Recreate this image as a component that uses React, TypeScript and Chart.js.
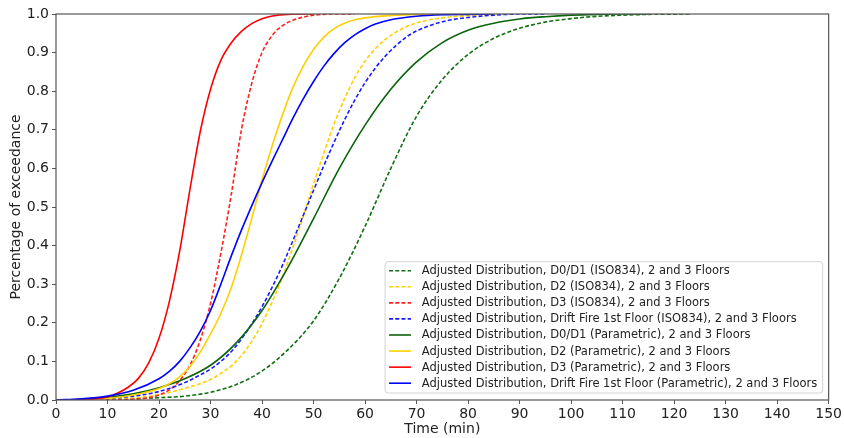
import React, { useEffect, useRef } from "react";
import { Chart, registerables } from "chart.js";

Chart.register(...registerables);

const FONT = "'DejaVu Sans', 'Liberation Sans', sans-serif";

const SERIES_LABELS = [
  "Adjusted Distribution, D0/D1 (ISO834), 2 and 3 Floors",
  "Adjusted Distribution, D2 (ISO834), 2 and 3 Floors",
  "Adjusted Distribution, D3 (ISO834), 2 and 3 Floors",
  "Adjusted Distribution, Drift Fire 1st Floor (ISO834), 2 and 3 Floors",
  "Adjusted Distribution, D0/D1 (Parametric), 2 and 3 Floors",
  "Adjusted Distribution, D2 (Parametric), 2 and 3 Floors",
  "Adjusted Distribution, D3 (Parametric), 2 and 3 Floors",
  "Adjusted Distribution, Drift Fire 1st Floor (Parametric), 2 and 3 Floors",
];

// D0/D1 (ISO834)
const T_D01_ISO = [0, 10, 15, 20, 25, 30, 35, 40, 45, 50, 55, 60, 65, 70, 75, 80, 85, 90, 95, 100, 105, 110, 115, 123];
const P_D01_ISO = [0, 0.001, 0.003, 0.006, 0.01, 0.02, 0.04, 0.075, 0.13, 0.205, 0.315, 0.45, 0.6, 0.735, 0.83, 0.895, 0.937, 0.963, 0.979, 0.988, 0.994, 0.997, 0.999, 1];

// D2 (ISO834)
const T_D2_ISO = [0, 10, 15, 20, 25, 30, 32, 34, 36, 38, 40, 42, 44, 46, 48, 50, 52, 54, 56, 58, 60, 62, 64, 66, 68, 70, 75, 80, 85, 88];
const P_D2_ISO = [0, 0.001, 0.005, 0.014, 0.03, 0.053, 0.069, 0.088, 0.115, 0.152, 0.198, 0.255, 0.32, 0.395, 0.475, 0.56, 0.64, 0.715, 0.78, 0.835, 0.878, 0.91, 0.935, 0.953, 0.967, 0.977, 0.99, 0.996, 0.999, 1];

// D3 (ISO834)
const T_D3_ISO = [0, 10, 15, 18, 20, 22, 24, 26, 28, 30, 32, 34, 36, 38, 40, 42, 44, 46, 48, 50, 52, 55, 58];
const P_D3_ISO = [0, 0, 0.002, 0.006, 0.013, 0.026, 0.05, 0.09, 0.155, 0.25, 0.38, 0.53, 0.7, 0.82, 0.9, 0.945, 0.97, 0.984, 0.992, 0.997, 0.999, 1, 1];

// Drift Fire 1st Floor (ISO834)
const T_DF_ISO = [0, 5, 10, 15, 20, 25, 28, 30, 32, 34, 36, 38, 40, 42, 44, 46, 48, 50, 52, 54, 56, 58, 60, 62, 64, 66, 68, 70, 75, 80, 85, 90, 95];
const P_DF_ISO = [0, 0.001, 0.004, 0.01, 0.022, 0.045, 0.065, 0.08, 0.1, 0.125, 0.158, 0.197, 0.242, 0.293, 0.35, 0.413, 0.478, 0.543, 0.607, 0.668, 0.725, 0.777, 0.822, 0.86, 0.892, 0.918, 0.94, 0.956, 0.98, 0.991, 0.997, 1, 1];

// D0/D1 (Parametric)
const T_D01_PAR = [0, 5, 10, 15, 20, 25, 30, 35, 40, 45, 50, 55, 60, 65, 70, 75, 80, 85, 90, 95, 100, 105, 110, 115];
const P_D01_PAR = [0, 0.002, 0.007, 0.016, 0.032, 0.055, 0.09, 0.148, 0.232, 0.343, 0.47, 0.6, 0.712, 0.805, 0.876, 0.926, 0.958, 0.976, 0.987, 0.993, 0.997, 0.999, 1, 1];

// D2 (Parametric)
const T_D2_PAR = [0, 5, 10, 15, 20, 22, 24, 26, 28, 30, 32, 34, 36, 38, 40, 42, 44, 46, 48, 50, 52, 54, 56, 58, 60, 65, 70, 80];
const P_D2_PAR = [0, 0.001, 0.004, 0.013, 0.03, 0.042, 0.06, 0.087, 0.124, 0.171, 0.224, 0.29, 0.375, 0.47, 0.57, 0.66, 0.74, 0.81, 0.865, 0.908, 0.94, 0.962, 0.976, 0.985, 0.99, 0.996, 0.999, 1];

// D3 (Parametric)
const T_D3_PAR = [0, 5, 10, 12, 14, 16, 18, 20, 22, 24, 26, 28, 30, 32, 34, 36, 38, 40, 42, 45, 50];
const P_D3_PAR = [0, 0.001, 0.008, 0.018, 0.033, 0.056, 0.096, 0.16, 0.255, 0.385, 0.545, 0.695, 0.805, 0.88, 0.925, 0.955, 0.975, 0.988, 0.995, 0.999, 1];

// Drift Fire 1st Floor (Parametric)
const T_DF_PAR = [0, 5, 10, 15, 20, 22, 24, 26, 28, 30, 32, 34, 36, 38, 40, 42, 44, 46, 48, 50, 52, 54, 56, 58, 60, 62, 65, 70, 75, 80, 85];
const P_DF_PAR = [0, 0.003, 0.01, 0.025, 0.055, 0.074, 0.1, 0.135, 0.178, 0.232, 0.3, 0.372, 0.44, 0.503, 0.563, 0.62, 0.675, 0.73, 0.78, 0.825, 0.865, 0.898, 0.925, 0.946, 0.962, 0.974, 0.985, 0.994, 0.998, 0.999, 1];

const SERIES_T = [T_D01_ISO, T_D2_ISO, T_D3_ISO, T_DF_ISO, T_D01_PAR, T_D2_PAR, T_D3_PAR, T_DF_PAR];
const SERIES_P = [P_D01_ISO, P_D2_ISO, P_D3_ISO, P_DF_ISO, P_D01_PAR, P_D2_PAR, P_D3_PAR, P_DF_PAR];
const SERIES_COLORS = ["#107010", "#ffd000", "#ff2020", "#1a1aff", "#0a640a", "#ffd000", "#ff0000", "#0000ff"];
const SERIES_DASHED = [true, true, true, true, false, false, false, false];

const framePlugin = {
  id: "frame",
  afterDraw(chart: any) {
    const { ctx, chartArea } = chart;
    ctx.save();
    ctx.strokeStyle = "#555";
    ctx.lineWidth = 1.2;
    ctx.strokeRect(chartArea.left, chartArea.top, chartArea.right - chartArea.left, chartArea.bottom - chartArea.top);
    ctx.restore();
  },
};

const legendPlugin = {
  id: "insideLegend",
  afterDatasetsDraw(chart: any) {
    const { ctx, chartArea } = chart;
    const datasets = chart.data.datasets;
    ctx.save();
    ctx.font = `12px ${FONT}`;
    const raw = Math.max(...datasets.map((d: any) => ctx.measureText(d.label).width));
    const fontSize = (12 * 396) / raw;
    ctx.font = `${fontSize}px ${FONT}`;
    const maxW = Math.max(...datasets.map((d: any) => ctx.measureText(d.label).width));
    const rowH = 16.07;
    const padL = 4;
    const handleW = 22;
    const gap = 10.7;
    const boxW = padL + handleW + gap + maxW + 5.4;
    const boxH = 9 + rowH * (datasets.length - 1) + 9.8;
    const right = chartArea.right - 6;
    const bottom = chartArea.bottom - 7;
    const left = right - boxW;
    const top = bottom - boxH;
    ctx.beginPath();
    if ((ctx as any).roundRect) (ctx as any).roundRect(left, top, boxW, boxH, 3);
    else ctx.rect(left, top, boxW, boxH);
    ctx.fillStyle = "rgba(255,255,255,0.85)";
    ctx.fill();
    ctx.strokeStyle = "#d2d2d2";
    ctx.lineWidth = 1;
    ctx.stroke();
    datasets.forEach((ds: any, i: number) => {
      const y = top + 9 + rowH * i;
      ctx.beginPath();
      ctx.setLineDash(ds.borderDash || []);
      ctx.strokeStyle = ds.borderColor;
      ctx.lineWidth = ds.borderWidth;
      ctx.moveTo(left + padL, y);
      ctx.lineTo(left + padL + handleW, y);
      ctx.stroke();
      ctx.setLineDash([]);
      ctx.fillStyle = "#222";
      ctx.textBaseline = "middle";
      ctx.textAlign = "left";
      ctx.fillText(ds.label, left + padL + handleW + gap, y + 0.5);
    });
    ctx.restore();
  },
};

export default function App() {
  const ref = useRef<HTMLCanvasElement | null>(null);

  useEffect(() => {
    if (!ref.current) return;
    const datasets = SERIES_LABELS.map((label, i) => ({
      label,
      data: SERIES_T[i].map((t, j) => ({ x: t, y: SERIES_P[i][j] })),
      borderColor: SERIES_COLORS[i],
      backgroundColor: SERIES_COLORS[i],
      borderWidth: 1.6,
      borderDash: SERIES_DASHED[i] ? [4, 2.2] : [],
      pointRadius: 0,
      pointHoverRadius: 0,
      fill: false,
      cubicInterpolationMode: "monotone" as const,
      order: SERIES_LABELS.length - i,
    }));

    const chart = new Chart(ref.current, {
      type: "line",
      data: { datasets },
      options: {
        animation: false,
        responsive: false,
        devicePixelRatio: 1,
        layout: { padding: { left: 0, right: 15, top: 14, bottom: 0 } },
        plugins: {
          legend: { display: false },
          tooltip: { enabled: false },
        },
        scales: {
          x: {
            type: "linear",
            min: 0,
            max: 150,
            afterFit: (s: any) => {
              s.height = 38;
            },
            border: { display: false },
            grid: { drawOnChartArea: false, drawTicks: true, tickLength: 4, color: "#555" },
            ticks: {
              stepSize: 10,
              autoSkip: false,
              maxRotation: 0,
              padding: 2,
              color: "#222",
              font: { family: FONT, size: 14 },
            },
            title: {
              display: true,
              text: "Time (min)",
              color: "#222",
              font: { family: FONT, size: 14 },
              padding: { top: 0, bottom: 0 },
            },
          },
          y: {
            type: "linear",
            min: 0,
            max: 1,
            afterFit: (s: any) => {
              s.width = 56;
            },
            border: { display: false },
            grid: { drawOnChartArea: false, drawTicks: true, tickLength: 4, color: "#555" },
            ticks: {
              stepSize: 0.1,
              padding: 3,
              color: "#222",
              font: { family: FONT, size: 14 },
              callback: (v: any) => Number(v).toFixed(1),
            },
            title: {
              display: true,
              text: "Percentage of exceedance",
              color: "#222",
              font: { family: FONT, size: 14 },
              padding: { top: 7.6, bottom: 0 },
            },
          },
        },
      },
      plugins: [framePlugin, legendPlugin],
    });
    return () => chart.destroy();
  }, []);

  return (
    <div style={{ position: "fixed", left: 0, top: 0, width: 844, height: 438, background: "#fff" }}>
      <canvas ref={ref} width={844} height={438} />
    </div>
  );
}
